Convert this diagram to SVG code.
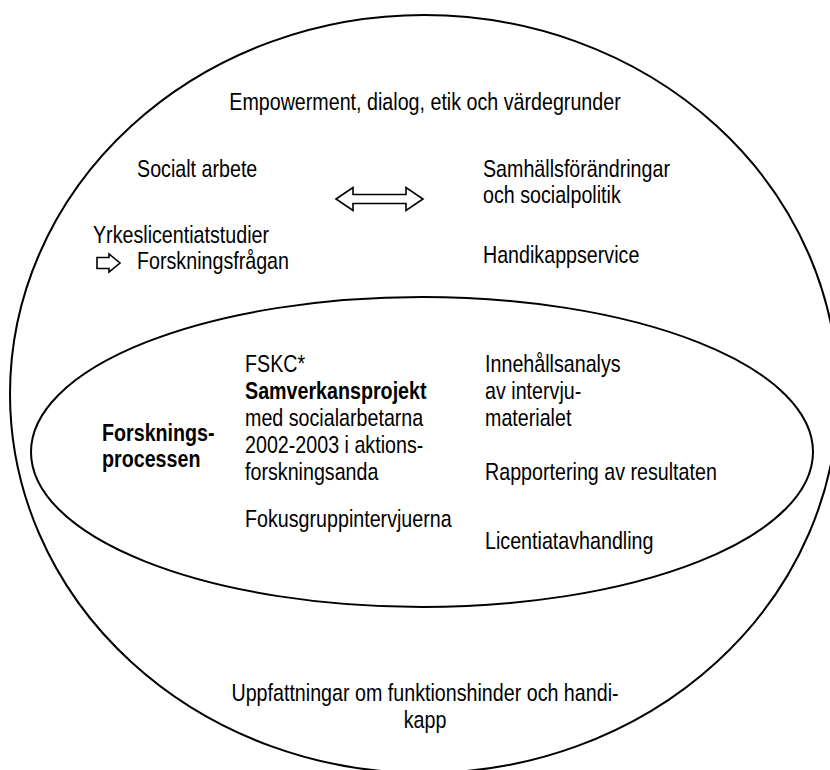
<svg xmlns="http://www.w3.org/2000/svg" width="830" height="770" viewBox="0 0 830 770">
<style>
.t{font-family:"Liberation Sans",Arial,sans-serif;font-size:24px;fill:#000}
.b{font-weight:bold}
.m{text-anchor:middle}
.shape{fill:none;stroke:#000;stroke-width:2}
.arr{fill:#fff;stroke:#000;stroke-width:1.6;stroke-linejoin:miter}
</style>
<rect width="830" height="770" fill="#fff"/>
<g id="outer">
<ellipse class="shape" cx="424" cy="394" rx="414" ry="379"/>
<g transform="scale(0.82 1)">
<text class="t m" x="518.3" y="110">Empowerment, dialog, etik och värdegrunder</text>
<text class="t" x="167.1" y="177">Socialt arbete</text>
<text class="t" x="589" y="177">Samhällsförändringar</text>
<text class="t" x="589" y="203">och socialpolitik</text>
<text class="t" x="113.4" y="243">Yrkeslicentiatstudier</text>
<text class="t" x="167.1" y="269">Forskningsfrågan</text>
<text class="t" x="589" y="263">Handikappservice</text>
<text class="t m" x="518.3" y="701">Uppfattningar om funktionshinder och handi-</text>
<text class="t m" x="518.3" y="728">kapp</text>
</g>
</g>
<g id="inner">
<ellipse class="shape" cx="422" cy="452" rx="391" ry="155"/>
<g transform="scale(0.82 1)">
<text class="t b" x="124.4" y="441">Forsknings-</text>
<text class="t b" x="124.4" y="467">processen</text>
<text class="t" x="298.8" y="372">FSKC*</text>
<text class="t b" x="298.8" y="399">Samverkansprojekt</text>
<text class="t" x="298.8" y="426">med socialarbetarna</text>
<text class="t" x="298.8" y="453">2002-2003 i aktions-</text>
<text class="t" x="298.8" y="480">forskningsanda</text>
<text class="t" x="298.8" y="527">Fokusgruppintervjuerna</text>
<text class="t" x="591.5" y="372">Innehållsanalys</text>
<text class="t" x="591.5" y="399">av intervju-</text>
<text class="t" x="591.5" y="426">materialet</text>
<text class="t" x="591.5" y="480">Rapportering av resultaten</text>
<text class="t" x="591.5" y="549">Licentiatavhandling</text>
</g>
</g>
<g id="connectors">
<polygon class="arr" points="336,199 353,187.5 353,194.5 406,194.5 406,187.5 423,199 406,210.5 406,203.5 353,203.5 353,210.5"/>
<polygon class="arr" points="97,257.5 109,257.5 109,254 120,263 109,272 109,268.5 97,268.5"/>
</g>
</svg>
